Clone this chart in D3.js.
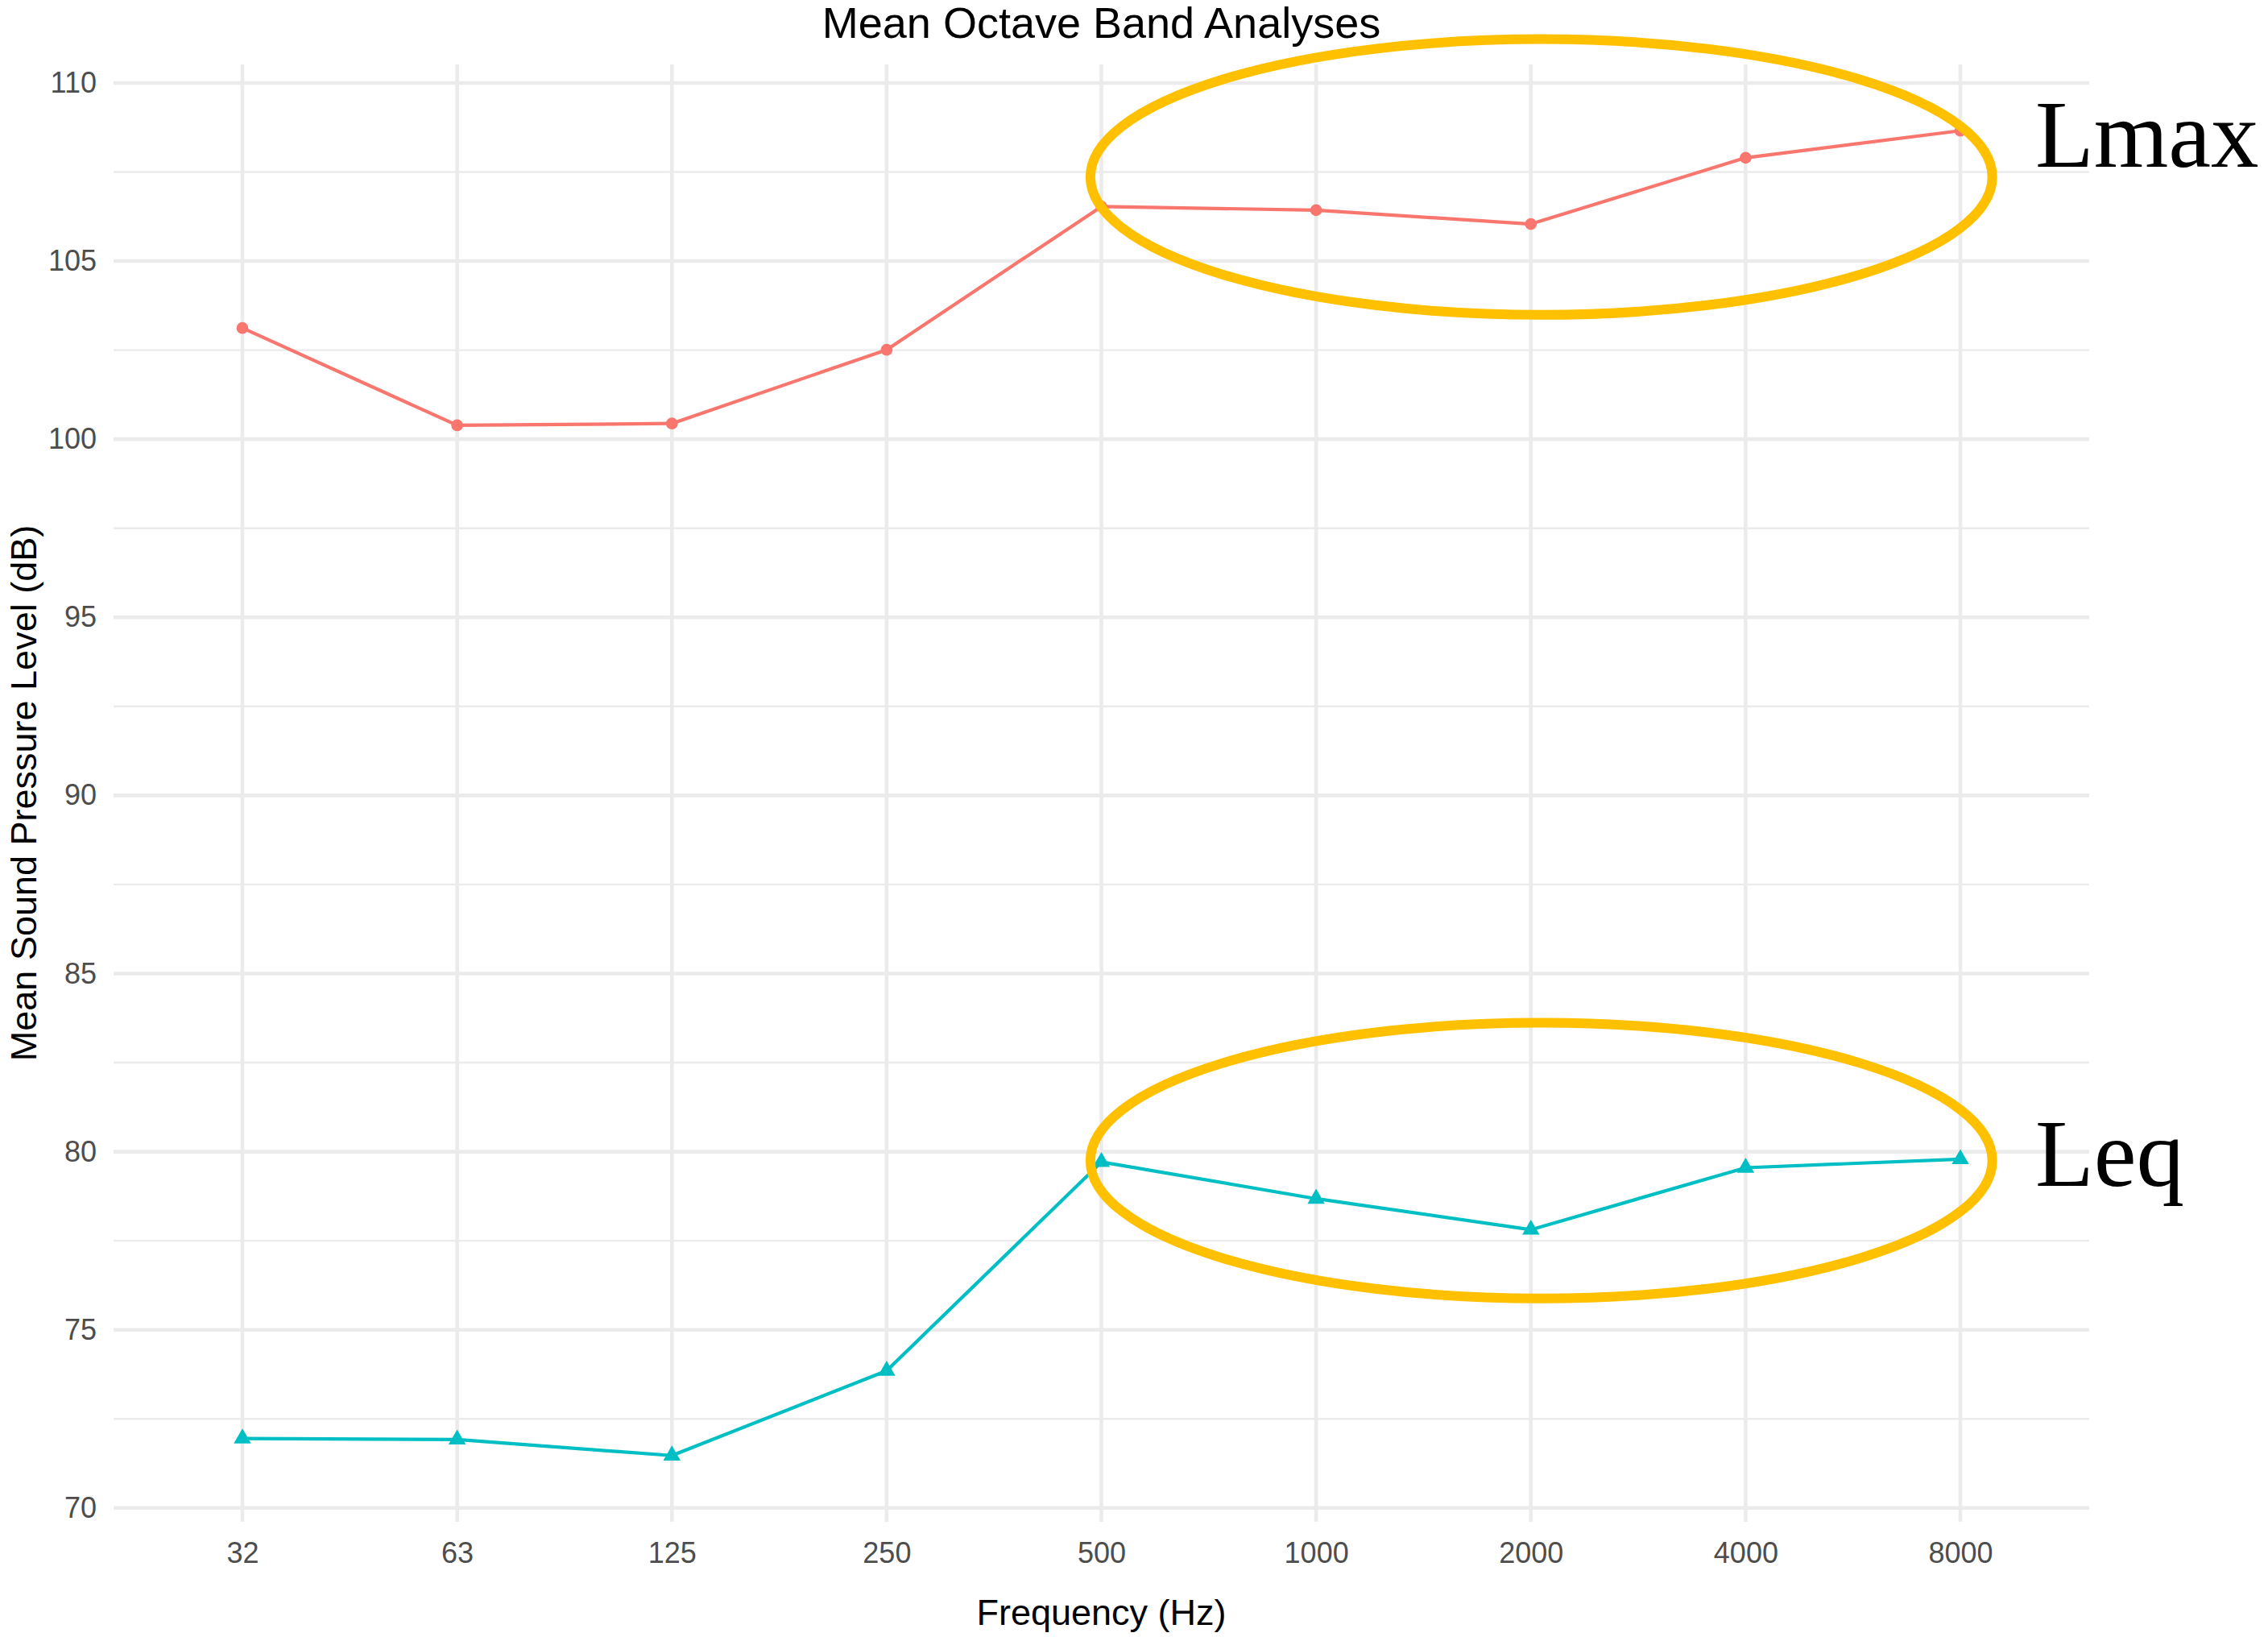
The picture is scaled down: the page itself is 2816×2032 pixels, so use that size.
<!DOCTYPE html>
<html>
<head>
<meta charset="utf-8">
<script src="https://cdn.jsdelivr.net/npm/d3@7"></script>
<style>
  body { margin: 0; background: #fff; }
</style>
</head>
<body>
<svg id="chart" width="2816" height="2032" font-family="Liberation Sans, Arial, sans-serif"></svg>
<script>
//data
var frequencies = ["32", "63", "125", "250", "500", "1000", "2000", "4000", "8000"];
var lmaxValues = [103.12, 100.39, 100.44, 102.51, 106.53, 106.43, 106.04, 107.90, 108.66];
var leqValues = [71.95, 71.92, 71.47, 73.85, 79.71, 78.68, 77.81, 79.55, 79.79];
var yTicks = [70, 75, 80, 85, 90, 95, 100, 105, 110];
var yMinorTicks = [72.5, 77.5, 82.5, 87.5, 92.5, 97.5, 102.5, 107.5];

//annotation callouts (centre in data space, label baseline shift in px)
var callouts = [
    {label: "Lmax", cat: "2000", value: 107.36, shift: -13},
    {label: "Leq", cat: "2000", value: 79.75, shift: 31}
];

var svg = d3.select("#chart"),
    width = +svg.attr("width"),
    height = +svg.attr("height"),
    margin = {top: 80, left: 141, bottom: 143, right: 222},
    plotW = width - margin.left - margin.right,
    plotH = height - margin.top - margin.bottom;

var colLmax = "#F8766D", colLeq = "#00BFC4", gridCol = "#EBEBEB";

//x: discrete scale, ggplot style 0.6 step of padding at each end
var x = d3.scalePoint()
    .domain(frequencies)
    .range([margin.left, margin.left + plotW])
    .padding(0.6);

//y: continuous with 5% expansion
var all = lmaxValues.concat(leqValues),
    lo = d3.min(all), hi = d3.max(all),
    pad = (hi - lo) * 0.05;
var y = d3.scaleLinear()
    .domain([lo - pad, hi + pad])
    .range([margin.top + plotH, margin.top]);

var grid = svg.append("g");

//minor horizontal grid
grid.selectAll(".minor").data(yMinorTicks).enter().append("line")
    .attr("x1", margin.left).attr("x2", margin.left + plotW)
    .attr("y1", d => y(d)).attr("y2", d => y(d))
    .attr("stroke", gridCol).attr("stroke-width", 2.4);

//major horizontal grid
grid.selectAll(".major").data(yTicks).enter().append("line")
    .attr("x1", margin.left).attr("x2", margin.left + plotW)
    .attr("y1", d => y(d)).attr("y2", d => y(d))
    .attr("stroke", gridCol).attr("stroke-width", 4.6);

//vertical grid for each band
grid.selectAll(".vgrid").data(frequencies).enter().append("line")
    .attr("x1", d => x(d)).attr("x2", d => x(d))
    .attr("y1", margin.top).attr("y2", margin.top + plotH)
    .attr("stroke", gridCol).attr("stroke-width", 4.6);

//axes, drawn with d3 axis then stripped down to labels only
var yAxis = svg.append("g")
    .attr("transform", "translate(" + (margin.left - 21) + ",0)")
    .call(d3.axisLeft(y).tickValues(yTicks).tickSize(0).tickPadding(0));
var xAxis = svg.append("g")
    .attr("transform", "translate(0," + (margin.top + plotH) + ")")
    .call(d3.axisBottom(x).tickSize(0).tickPadding(0));

[yAxis, xAxis].forEach(function (ax) {
    ax.attr("font-family", null).attr("font-size", 36);
    ax.select(".domain").remove();
    ax.selectAll("text").attr("fill", "#4D4D4D");
});
xAxis.selectAll("text").attr("dy", null).attr("y", 51);

//series
var series = [
    {name: "Lmax", values: lmaxValues, color: colLmax, shape: d3.symbolCircle},
    {name: "Leq", values: leqValues, color: colLeq, shape: d3.symbolTriangle}
];

var line = d3.line()
    .x(function (d, i) { return x(frequencies[i]); })
    .y(function (d) { return y(d); });

series.forEach(function (s) {
    svg.append("path")
        .datum(s.values)
        .attr("fill", "none")
        .attr("stroke", s.color)
        .attr("stroke-width", 4.2)
        .attr("stroke-linejoin", "round")
        .attr("d", line);

    svg.append("g").selectAll("path")
        .data(s.values).enter().append("path")
        .attr("d", d3.symbol().type(s.shape).size(s.shape === d3.symbolCircle ? 170 : 200))
        .attr("transform", function (d, i) {
            return "translate(" + x(frequencies[i]) + "," + y(d) + ")";
        })
        .attr("fill", s.color);
});

//callout ellipses and big labels
var step = x.step(),
    unit = y(0) - y(1);
callouts.forEach(function (c) {
    var cx = x(c.cat) + 13, cy = y(c.value);
    svg.append("ellipse")
        .attr("cx", cx).attr("cy", cy)
        .attr("rx", step * 2.1).attr("ry", unit * 3.87)
        .attr("fill", "none")
        .attr("stroke", "#FFC000")
        .attr("stroke-width", 12);
    svg.append("text")
        .attr("x", cx + step * 2.3)
        .attr("y", cy + c.shift)
        .style("font-family", "'Liberation Serif', 'Times New Roman', serif")
        .attr("font-size", 119)
        .attr("fill", "#000")
        .text(c.label);
});

//titles
svg.append("text")
    .attr("x", margin.left + plotW / 2).attr("y", 47)
    .attr("text-anchor", "middle")
    .attr("font-size", 54)
    .attr("fill", "#000")
    .text("Mean Octave Band Analyses");

svg.append("text")
    .attr("x", margin.left + plotW / 2).attr("y", 2017)
    .attr("text-anchor", "middle")
    .attr("font-size", 45)
    .attr("fill", "#000")
    .text("Frequency (Hz)");

svg.append("text")
    .attr("transform", "translate(45," + (margin.top + plotH / 2) + ") rotate(-90)")
    .attr("text-anchor", "middle")
    .attr("font-size", 45)
    .attr("fill", "#000")
    .text("Mean Sound Pressure Level (dB)");
</script>
</body>
</html>
